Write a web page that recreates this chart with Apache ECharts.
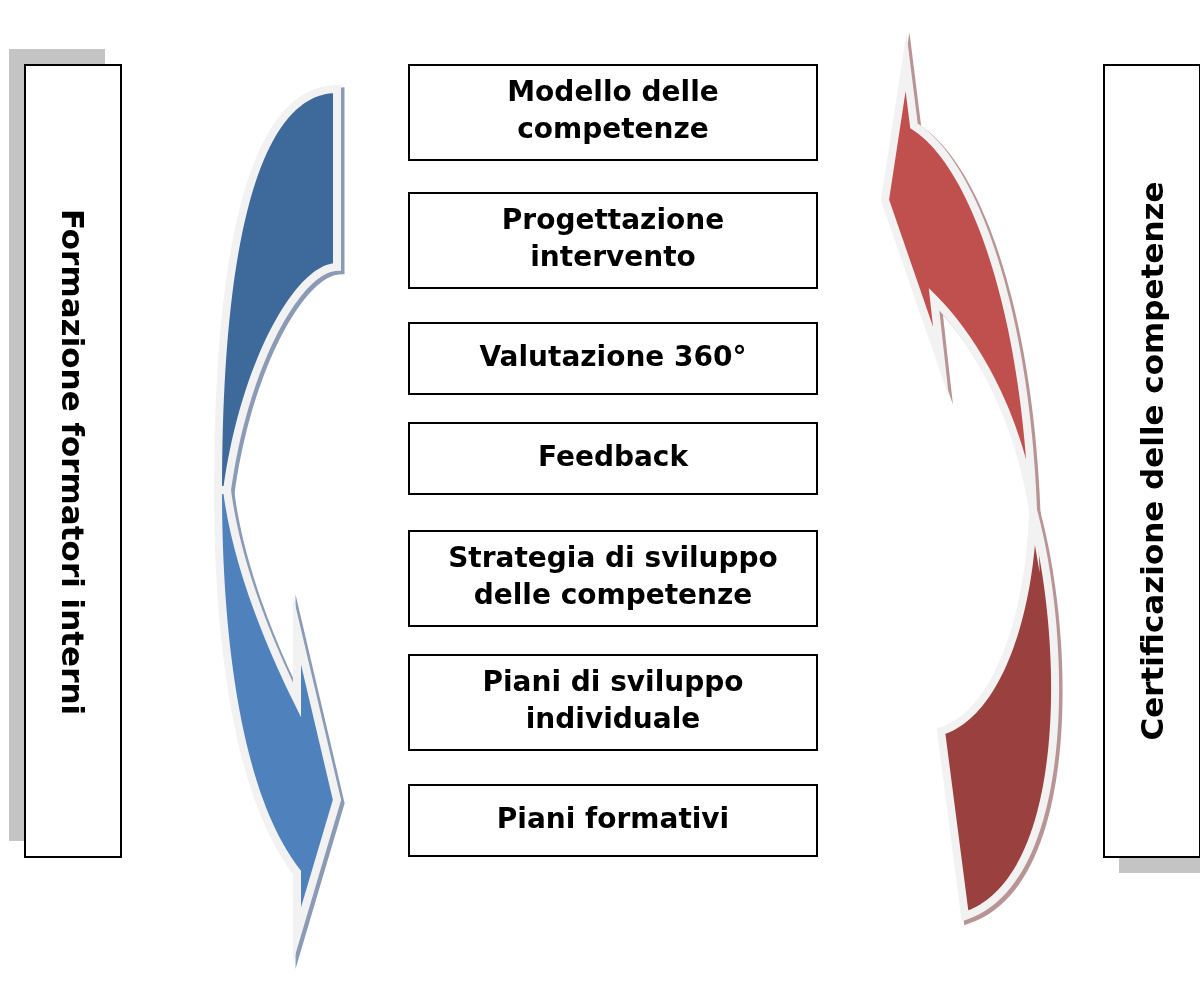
<!DOCTYPE html>
<html>
<head>
<meta charset="utf-8">
<script src="https://cdn.jsdelivr.net/npm/echarts@6/dist/echarts.min.js"></script>
<style>
  html, body { margin: 0; background: #fff; }
  #main { width: 1200px; height: 990px; }
</style>
</head>
<body>
<div id="main"></div>
<script>
// labels
const steps = [
  "Modello delle\ncompetenze",
  "Progettazione\nintervento",
  "Valutazione 360°",
  "Feedback",
  "Strategia di sviluppo\ndelle competenze",
  "Piani di sviluppo\nindividuale",
  "Piani formativi",
];
const leftLabel = "Formazione formatori interni";
const rightLabel = "Certificazione delle competenze";

// layout of the step boxes
const stepTop = [65, 193, 323, 423, 531, 655, 785];
const stepHeight = [95, 95, 71, 71, 95, 95, 71];

const FONT = '"DejaVu Sans", Verdana, sans-serif';

// sample a cubic bezier into points
function bez(p0, p1, p2, p3, n) {
  const pts = [];
  for (let i = 0; i <= n; i++) {
    const t = i / n, u = 1 - t;
    const a = u * u * u, b = 3 * u * u * t, c = 3 * u * t * t, d = t * t * t;
    pts.push([
      a * p0[0] + b * p1[0] + c * p2[0] + d * p3[0],
      a * p0[1] + b * p1[1] + c * p2[1] + d * p3[1],
    ]);
  }
  return pts;
}

// blue arrow (curving down, head pointing right)
const blueTop = bez([337, 89], [262, 89], [218, 220], [218, 490], 50)
  .concat(bez([337, 267], [300, 267], [245, 360], [227, 490], 50).reverse());
const blueBottom = bez([218, 490], [218, 650], [240, 800], [297, 872], 50)
  .concat([[297, 935], [337, 800], [297, 630]])
  .concat(bez([227, 490], [236, 560], [265, 635], [297, 700], 50).reverse());

// red arrow (curving up, head pointing left)
const redTop = [[906, 62], [885, 200], [941, 362]]
  .concat(bez([934, 299], [965, 330], [1015, 400], [1033, 510], 50))
  .concat(bez([914, 126], [970, 160], [1025, 300], [1033, 510], 50).reverse());
const redBottom = bez([1033, 510], [1068, 640], [1072, 880], [965, 916], 50)
  .concat(bez([941, 731], [995, 715], [1030, 620], [1033, 510], 50));

function shadow(points, color) {
  return {
    type: "polygon",
    x: 3, y: 3,
    shape: { points },
    style: { fill: color, stroke: color, lineWidth: 9, lineJoin: "miter", miterLimit: 20 },
  };
}
function shape(points, color) {
  return {
    type: "polygon",
    shape: { points },
    style: { fill: color, stroke: "#f2f2f2", lineWidth: 8, lineJoin: "miter", miterLimit: 20 },
  };
}

const elements = [];

// side boxes with shadows
elements.push({ type: "rect", shape: { x: 9, y: 49, width: 96, height: 792 }, style: { fill: "#c4c4c4" } });
elements.push({ type: "rect", shape: { x: 1119, y: 81, width: 96, height: 792 }, style: { fill: "#c4c4c4" } });
elements.push({ type: "rect", shape: { x: 25, y: 65, width: 96, height: 792 }, style: { fill: "#fff", stroke: "#000", lineWidth: 2 } });
elements.push({ type: "rect", shape: { x: 1104, y: 65, width: 96, height: 792 }, style: { fill: "#fff", stroke: "#000", lineWidth: 2 } });
elements.push({
  type: "text", x: 70, y: 462, rotation: -Math.PI / 2,
  style: { text: leftLabel, fill: "#000", fontFamily: FONT, fontWeight: "bold", fontSize: 31, align: "center", verticalAlign: "middle" },
});
elements.push({
  type: "text", x: 1155, y: 461, rotation: Math.PI / 2,
  style: { text: rightLabel, fill: "#000", fontFamily: FONT, fontWeight: "bold", fontSize: 31, align: "center", verticalAlign: "middle" },
});

// arrows
elements.push(shadow(blueTop, "#8b9bb6"), shadow(blueBottom, "#8b9bb6"));
elements.push(shape(blueTop, "#3e6a9b"), shape(blueBottom, "#4f81bd"));
elements.push(shadow(redTop, "#b89494"), shadow(redBottom, "#b89494"));
elements.push(shape(redBottom, "#9a403e"), shape(redTop, "#c0504d"));

// step boxes
steps.forEach((label, i) => {
  elements.push({
    type: "rect",
    shape: { x: 409, y: stepTop[i], width: 408, height: stepHeight[i] },
    style: { fill: "#fff", stroke: "#000", lineWidth: 2 },
  });
  elements.push({
    type: "text",
    style: {
      x: 613, y: stepTop[i] + stepHeight[i] / 2, text: label, fill: "#000",
      fontFamily: FONT, fontWeight: "bold", fontSize: 28, lineHeight: 37,
      align: "center", verticalAlign: "middle",
    },
  });
});

const chart = echarts.init(document.getElementById("main"));
chart.setOption({
  backgroundColor: "#fff",
  animation: false,
  graphic: { elements },
});
window.addEventListener("resize", () => chart.resize());
</script>
</body>
</html>
